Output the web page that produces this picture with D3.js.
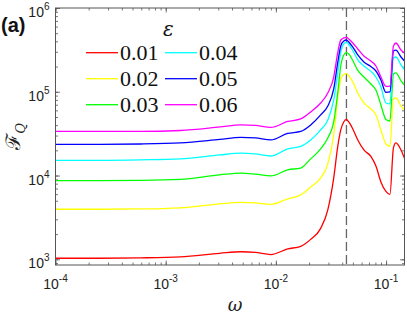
<!DOCTYPE html>
<html>
<head>
<meta charset="utf-8">
<script src="https://cdn.jsdelivr.net/npm/d3@7"></script>
<style>
  body { margin: 0; background: #fff; }
</style>
</head>
<body>
<svg id="chart"></svg>
<script>
// frequency grid (shared by all curves)
const omega = [1e-4, 2.5e-4, 5.9e-4, 1.36e-3, 3.1e-3, 4.8e-3, 6.5e-3, 9.0e-3, 0.0128, 0.0168,
  0.0207, 0.0255, 0.0296, 0.0335, 0.0365, 0.0388, 0.0413, 0.0436, 0.0459, 0.0499,
  0.0554, 0.0629, 0.0728, 0.0809, 0.0898, 0.0997, 0.1084, 0.1167, 0.1229, 0.1366, 0.15];

// F_Q for each epsilon
const fq001 = [1.03e3, 1.03e3, 1.04e3, 1.07e3, 1.18e3, 1.23e3, 1.21e3, 1.14e3, 1.33e3, 1.43e3,
  1.73e3, 2.34e3, 3.89e3, 9.36e3, 2.26e4, 3.50e4, 4.36e4, 4.67e4, 4.36e4, 3.60e4,
  2.66e4, 2.02e4, 1.69e4, 1.30e4, 8.39e3, 6.46e3, 5.95e3, 2.14e4, 2.45e4, 2.02e4, 1.49e4];
const fq002 = [3.96e3, 3.96e3, 3.99e3, 4.11e3, 4.58e3, 4.78e3, 4.71e3, 4.52e3, 5.26e3, 5.87e3,
  7.31e3, 9.36e3, 1.38e4, 3.05e4, 8.67e4, 1.42e5, 1.61e5, 1.65e5, 1.56e5, 1.31e5,
  9.67e4, 7.35e4, 6.23e4, 5.29e4, 3.50e4, 2.38e4, 2.23e4, 8.21e4, 8.43e4, 6.77e4, 5.90e4];
const fq003 = [8.69e3, 8.69e3, 8.74e3, 8.98e3, 1.02e4, 1.07e4, 1.04e4, 9.89e3, 1.17e4, 1.23e4,
  1.58e4, 2.08e4, 2.81e4, 4.36e4, 9.94e4, 2.03e5, 2.75e5, 2.94e5, 2.83e5, 2.36e5,
  1.80e5, 1.50e5, 1.24e5, 1.05e5, 6.96e4, 4.67e4, 4.48e4, 1.63e5, 1.68e5, 1.35e5, 1.17e5];
const fq004 = [1.52e4, 1.52e4, 1.54e4, 1.58e4, 1.76e4, 1.85e4, 1.81e4, 1.71e4, 2.08e4, 2.23e4,
  2.66e4, 3.50e4, 4.61e4, 7.98e4, 1.72e5, 2.98e5, 3.72e5, 3.88e5, 3.67e5, 3.11e5,
  2.40e5, 2.03e5, 1.75e5, 1.50e5, 1.14e5, 7.35e4, 7.15e4, 2.53e5, 2.60e5, 2.09e5, 1.77e5];
const fq005 = [2.36e4, 2.36e4, 2.38e4, 2.45e4, 2.70e4, 2.85e4, 2.81e4, 2.66e4, 3.18e4, 3.36e4,
  4.02e4, 5.29e4, 6.77e4, 1.08e5, 2.27e5, 3.52e5, 4.04e5, 4.15e5, 3.93e5, 3.42e5,
  2.75e5, 2.27e5, 2.00e5, 1.77e5, 1.38e5, 9.81e4, 9.94e4, 3.07e5, 3.15e5, 2.60e5, 2.27e5];
const fq006 = [3.36e4, 3.36e4, 3.36e4, 3.45e4, 3.80e4, 4.02e4, 3.96e4, 3.75e4, 4.42e4, 4.74e4,
  5.74e4, 7.35e4, 9.67e4, 1.50e5, 2.98e5, 4.15e5, 4.39e5, 4.45e5, 4.27e5, 3.82e5,
  3.24e5, 2.67e5, 2.33e5, 2.03e5, 1.50e5, 1.16e5, 1.17e5, 3.52e5, 3.82e5, 3.15e5, 2.83e5];

const epsLabels = ["0.01", "0.02", "0.03", "0.04", "0.05", "0.06"];
const colors = ["#ff0000", "#ffff00", "#00ff00", "#00ffff", "#0000ff", "#ff00ff"];
const xMajor = [1e-4, 1e-3, 1e-2, 1e-1];
const yMajor = [1e3, 1e4, 1e5, 1e6];
const omegaMark = 0.0437; // dashed vertical line

const series = [fq001, fq002, fq003, fq004, fq005, fq006].map((vals, i) => ({
  label: epsLabels[i],
  color: colors[i],
  points: omega.map((w, j) => [w, vals[j]]),
}));

const width = 407, height = 314;
const margin = { top: 8, right: 2.5, bottom: 49, left: 55.5 };
const axisColor = "#555";

const svg = d3.select("#chart").attr("width", width).attr("height", height);

const x = d3.scaleLog().domain([1e-4, 0.147]).range([margin.left, width - margin.right]);
const y = d3.scaleLog().domain([855, 1e6]).range([height - margin.bottom, margin.top]);

const x0 = x.range()[0], x1 = x.range()[1];
const y0 = y.range()[0], y1 = y.range()[1];

svg.append("defs").append("clipPath").attr("id", "plot-clip")
  .append("rect").attr("x", x0).attr("y", y1).attr("width", x1 - x0).attr("height", y0 - y1);

// ticks on all four sides, pointing inwards
function tickAxes(axisFn, scale, translate, major) {
  const minor = scale.ticks().filter((v) => v >= scale.domain()[0] && v <= scale.domain()[1]);
  [[minor, 2.5], [major, 4.5]].forEach(([vals, len]) => {
    svg.append("g")
      .attr("transform", translate)
      .call(axisFn(scale).tickValues(vals).tickSizeInner(-len).tickSizeOuter(0).tickFormat(""))
      .call((g) => g.select(".domain").remove())
      .selectAll("line").attr("stroke", axisColor).attr("stroke-width", 0.8);
  });
}
tickAxes(d3.axisBottom, x, `translate(0,${y0})`, xMajor);
tickAxes(d3.axisTop, x, `translate(0,${y1})`, xMajor);
tickAxes(d3.axisLeft, y, `translate(${x0},0)`, yMajor);
tickAxes(d3.axisRight, y, `translate(${x1},0)`, yMajor);

// dashed marker
svg.append("line")
  .attr("x1", x(omegaMark)).attr("x2", x(omegaMark))
  .attr("y1", y1).attr("y2", y0)
  .attr("stroke", "#666").attr("stroke-width", 1.3)
  .attr("stroke-dasharray", "9,4");

// curves
const line = d3.line()
  .x((d) => x(d[0]))
  .y((d) => y(d[1]))
  .curve(d3.curveMonotoneX);

svg.append("g").attr("clip-path", "url(#plot-clip)")
  .selectAll("path")
  .data(series)
  .enter()
  .append("path")
  .attr("d", (d) => line(d.points))
  .attr("fill", "none")
  .attr("stroke", (d) => d.color)
  .attr("stroke-width", 1.3);

// box
svg.append("rect")
  .attr("x", x0).attr("y", y1)
  .attr("width", x1 - x0).attr("height", y0 - y1)
  .attr("fill", "none").attr("stroke", axisColor).attr("stroke-width", 1);

// tick labels as 10^n
function powLabel(t, n) {
  t.append("tspan").text("10");
  t.append("tspan").attr("dy", -7).attr("font-size", 10).text(n);
}

svg.selectAll(".xlab")
  .data(xMajor)
  .enter()
  .append("text")
  .attr("class", "xlab")
  .attr("x", (d) => x(d))
  .attr("y", y0 + 24)
  .attr("text-anchor", "middle")
  .attr("font-family", "Liberation Sans, Arial, sans-serif")
  .attr("font-size", 14)
  .attr("fill", "#222")
  .each(function (d) { powLabel(d3.select(this), Math.round(Math.log10(d))); });

svg.selectAll(".ylab")
  .data(yMajor)
  .enter()
  .append("text")
  .attr("class", "ylab")
  .attr("x", x0 - 6)
  .attr("y", (d) => y(d) + 9)
  .attr("text-anchor", "end")
  .attr("font-family", "Liberation Sans, Arial, sans-serif")
  .attr("font-size", 14)
  .attr("fill", "#222")
  .each(function (d) { powLabel(d3.select(this), Math.round(Math.log10(d))); });

// axis titles
svg.append("text")
  .attr("x", (x0 + x1) / 2 + 5)
  .attr("y", 311)
  .attr("text-anchor", "middle")
  .attr("font-family", "DejaVu Serif, serif")
  .attr("font-style", "italic")
  .attr("font-size", 18)
  .attr("fill", "#222")
  .text("ω");

const yTitle = svg.append("text")
  .attr("transform", `translate(20,${(y0 + y1) / 2}) rotate(-90)`)
  .attr("text-anchor", "middle")
  .attr("font-family", "DejaVu Serif, serif")
  .attr("font-size", 20)
  .attr("fill", "#222");
yTitle.append("tspan").text("ℱ");
yTitle.append("tspan").attr("dy", 5).attr("font-size", 13).attr("font-style", "italic").text("Q");

// panel tag
svg.append("text")
  .attr("x", 1)
  .attr("y", 32)
  .attr("font-family", "Liberation Sans, Arial, sans-serif")
  .attr("font-weight", "bold")
  .attr("font-size", 20)
  .attr("fill", "#111")
  .text("(a)");

// legend: title + 2 columns x 3 rows
svg.append("text")
  .attr("x", 163)
  .attr("y", 36)
  .attr("font-family", "DejaVu Serif, serif")
  .attr("font-style", "italic")
  .attr("font-size", 20)
  .attr("fill", "#111")
  .text("ε");

const legend = svg.append("g")
  .selectAll("g")
  .data(series)
  .enter()
  .append("g")
  .attr("transform", (d, i) => `translate(${i < 3 ? 86 : 165},${52.7 + (i % 3) * 26})`);

legend.append("line")
  .attr("x1", 0).attr("x2", 32)
  .attr("stroke", (d) => d.color)
  .attr("stroke-width", 1.3);

legend.append("text")
  .attr("x", 34)
  .attr("y", 7)
  .attr("font-family", "Liberation Serif, Times New Roman, serif")
  .attr("font-size", 22)
  .attr("fill", "#111")
  .text((d) => d.label);
</script>
</body>
</html>
